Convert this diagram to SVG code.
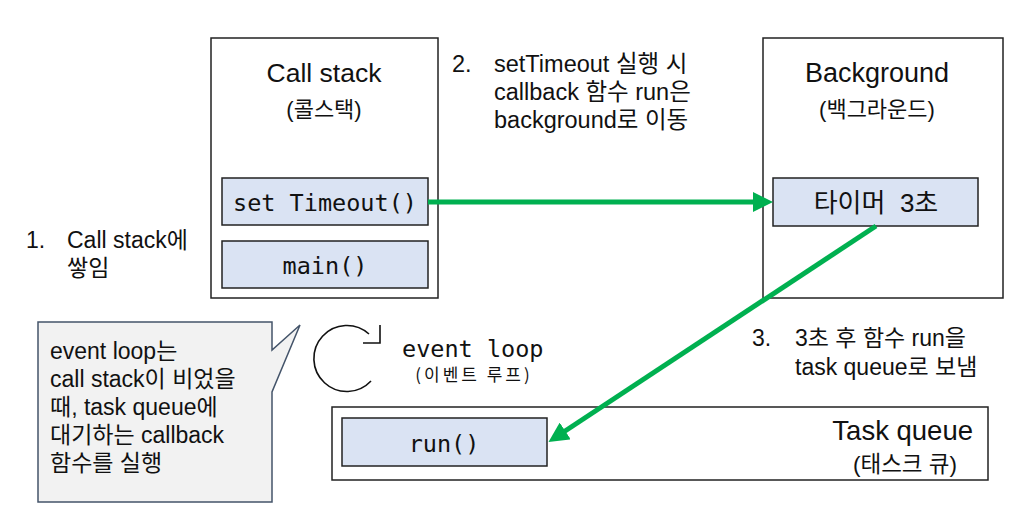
<svg xmlns="http://www.w3.org/2000/svg" width="1035" height="529" viewBox="0 0 1035 529">
<style>
.box{fill:#fff;stroke:#222;stroke-width:1.5}
.item{fill:#dae3f3;stroke:#222;stroke-width:1.5}
.t{font-family:"Liberation Sans","Noto Sans CJK KR",sans-serif;fill:#111}
.m{font-family:"DejaVu Sans Mono","Noto Sans CJK KR",monospace;fill:#111}
.g{stroke:#00b050;stroke-width:5;fill:none}
</style>
<defs>
<marker id="ah" markerWidth="4" markerHeight="4" refX="2.2" refY="2" orient="auto" markerUnits="strokeWidth">
<path d="M0,0 L4,2 L0,4 Z" fill="#00b050"/>
</marker>
</defs>
<rect width="1035" height="529" fill="#fff"/>
<g id="callstack">
<rect class="box" x="211" y="38" width="227" height="260"/>
<text class="t" x="324" y="82" font-size="26.5" text-anchor="middle">Call stack</text>
<text class="t" x="324" y="117" font-size="22" text-anchor="middle">(콜스택)</text>
</g>
<g id="settimeout">
<rect class="item" x="222" y="178" width="206" height="47"/>
<text class="m" x="325" y="211" font-size="23.5" text-anchor="middle">set Timeout()</text>
</g>
<g id="main">
<rect class="item" x="222" y="241" width="206" height="47"/>
<text class="m" x="325" y="274" font-size="23.5" text-anchor="middle">main()</text>
</g>
<g id="background">
<rect class="box" x="763" y="38" width="240" height="260"/>
<text class="t" x="877" y="82" font-size="27" text-anchor="middle">Background</text>
<text class="t" x="877" y="117" font-size="22" text-anchor="middle">(백그라운드)</text>
</g>
<g id="timer">
<rect class="item" x="773" y="178" width="205" height="48"/>
<text class="t" x="876" y="212" font-size="26" text-anchor="middle" xml:space="preserve">타이머  3초</text>
</g>
<g id="taskqueue">
<rect class="box" x="332" y="407" width="656" height="73"/>
<text class="t" x="973" y="440" font-size="27.5" text-anchor="end">Task queue</text>
<text class="t" x="905" y="472" font-size="22.5" text-anchor="middle">(태스크 큐)</text>
</g>
<g id="run">
<rect class="item" x="342" y="418" width="205" height="48"/>
<text class="m" x="444" y="452" font-size="23.5" text-anchor="middle">run()</text>
</g>
<g id="callout">
<path d="M38,322 H272 V350 L300,325 L272,392 V502 H38 Z" fill="#f2f2f2" stroke="#44546a" stroke-width="1.5"/>
<text class="t" font-size="23"><tspan x="50" y="359">event loop는</tspan><tspan x="50" y="387">call stack이 비었을</tspan><tspan x="50" y="415">때, task queue에</tspan><tspan x="50" y="443">대기하는 callback</tspan><tspan x="50" y="471">함수를 실행</tspan></text>
</g>
<g id="eventloop">
<path d="M369,334 A33,33 0 1 0 371,381" fill="none" stroke="#111" stroke-width="1.6"/>
<path d="M363,343 H380 V325" fill="none" stroke="#111" stroke-width="1.6"/>
<text class="m" x="402" y="357" font-size="23.5">event loop</text>
<text x="474" y="381" font-family="'Noto Sans CJK KR',sans-serif" fill="#111" font-size="17" letter-spacing="3" text-anchor="middle">(이벤트 루프)</text>
</g>
<g id="labels">
<text class="t" font-size="23.5"><tspan x="452" y="72">2.</tspan><tspan x="494" y="72">setTimeout 실행 시</tspan><tspan x="494" y="100">callback 함수 run은</tspan><tspan x="494" y="128">background로 이동</tspan></text>
<text class="t" font-size="23"><tspan x="26" y="248">1.</tspan><tspan x="67" y="248">Call stack에</tspan><tspan x="67" y="276">쌓임</tspan></text>
<text class="t" font-size="23"><tspan x="752" y="346">3.</tspan><tspan x="795" y="346">3초 후 함수 run을</tspan><tspan x="795" y="375">task queue로 보냄</tspan></text>
</g>
<g id="connectors">
<line class="g" x1="428" y1="202" x2="764" y2="202" marker-end="url(#ah)"/>
<line class="g" x1="876" y1="226" x2="556" y2="437" marker-end="url(#ah)"/>
</g>
</svg>
